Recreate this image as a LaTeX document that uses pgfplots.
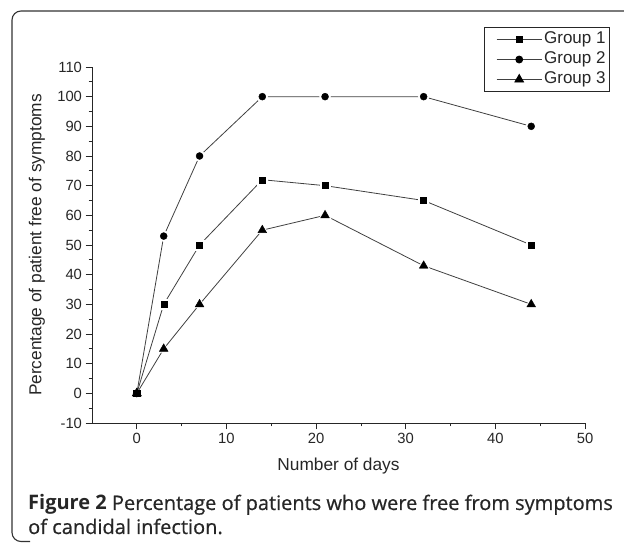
\documentclass[border=0pt]{standalone}
\usepackage{fontspec}
\setmainfont{Liberation Sans}
\newfontfamily\capfont{Open Sans}
\newfontfamily\capfontsb{Open Sans}[FakeBold=0.6]
\usepackage{pgfplots}
\pgfplotsset{compat=1.18}
\begin{document}
\begin{tikzpicture}[x=1pt,y=1pt]
\useasboundingbox (0,0) rectangle (624,543);
\begin{scope}
\clip (0,0) rectangle (624,543);
\draw[black!80, line width=1.1pt, rounded corners=9pt] (640,532) -- (12,532) -- (12,1.5) -- (30,1.5);
\end{scope}
\begin{axis}[
  at={(92pt,120pt)}, anchor=south west,
  width=493pt, height=356pt, scale only axis,
  xmin=-5, xmax=50, ymin=-10, ymax=110,
  axis lines*=left,
  axis line style={black!85, line width=0.9pt, -},
  xtick={0,10,...,50}, ytick={-10,0,...,110},
  minor x tick num=1, minor y tick num=1,
  tick align=outside, major tick length=6.5pt, minor tick length=3.5pt,
  tick style={black!85, line width=0.8pt},
  /pgf/number format/assume math mode=true,
  ticklabel style={font=\fontsize{14.8}{16}\selectfont, text=black!85},
  xlabel={Number of days},
  ylabel={Percentage of patient free of symptoms},
  label style={font=\fontsize{17.3}{19}\selectfont, text=black!85},
  xlabel style={at={(axis description cs:0.5,-0.12)}, anchor=center},
  ylabel style={at={(axis description cs:-0.112,0.5)}, anchor=center},
  legend style={at={(axis description cs:0.795,1.112)}, anchor=north west,
    draw=black!85, line width=0.8pt, font=\fontsize{17}{19}\selectfont,
    text=black!85, row sep=0pt, inner xsep=2pt, inner ysep=2pt,
    nodes={inner ysep=2pt, text height=12pt, text depth=4pt}},
  legend cell align=left,
  legend image code/.code={\path (0pt,0pt); \draw[mark repeat=2,mark phase=2] plot coordinates {(10pt,0pt) (32.5pt,0pt) (55pt,0pt)};},
  clip=false,
]
% Group 1
\addplot[black!75, line width=0.8pt, mark=square*, mark size=3pt, mark options={solid, fill=black, draw=black}]
  coordinates {(0,0) (3,30) (7,50) (14,72) (21,70) (32,65) (44,50)};
\addlegendentry{Group 1}
% Group 2
\addplot[black!75, line width=0.8pt, mark=*, mark size=3.5pt, mark options={solid, fill=black, draw=black}]
  coordinates {(0,0) (3,53) (7,80) (14,100) (21,100) (32,100) (44,90)};
\addlegendentry{Group 2}
% Group 3
\addplot[black!75, line width=0.8pt, mark=triangle*, mark size=5pt, mark options={solid, fill=black, draw=black}]
  coordinates {(0,0) (3,15) (7,30) (14,55) (21,60) (32,43) (44,30)};
\addlegendentry{Group 3}
% white halos and marks on top (gaps around markers)
\addplot[forget plot, only marks, mark=square*, mark size=5pt, mark options={fill=white, draw=white}]
  coordinates {(3,30) (7,50) (14,72) (21,70) (32,65) (44,50)};
\addplot[forget plot, only marks, mark=*, mark size=5.5pt, mark options={fill=white, draw=white}]
  coordinates {(3,53) (7,80) (14,100) (21,100) (32,100) (44,90)};
\addplot[forget plot, only marks, mark=triangle*, mark size=7pt, mark options={fill=white, draw=white}]
  coordinates {(3,15) (7,30) (14,55) (21,60) (32,43) (44,30)};
\addplot[forget plot, only marks, mark=square*, mark size=3pt, mark options={fill=black, draw=black}]
  coordinates {(0,0) (3,30) (7,50) (14,72) (21,70) (32,65) (44,50)};
\addplot[forget plot, only marks, mark=*, mark size=3.5pt, mark options={fill=black, draw=black}]
  coordinates {(0,0) (3,53) (7,80) (14,100) (21,100) (32,100) (44,90)};
\addplot[forget plot, only marks, mark=triangle*, mark size=5pt, mark options={fill=black, draw=black}]
  coordinates {(0,0) (3,15) (7,30) (14,55) (21,60) (32,43) (44,30)};
\end{axis}
\node[anchor=base west, inner sep=0, text=black!85, font=\capfontsb\fontsize{20}{23}\selectfont] at (28,33) {{\capfont\bfseries Figure 2} Percentage of patients who were free from symptoms};
\node[anchor=base west, inner sep=0, text=black!85, font=\capfontsb\fontsize{20}{23}\selectfont] at (28,9) {of candidal infection.};
\end{tikzpicture}
\end{document}
